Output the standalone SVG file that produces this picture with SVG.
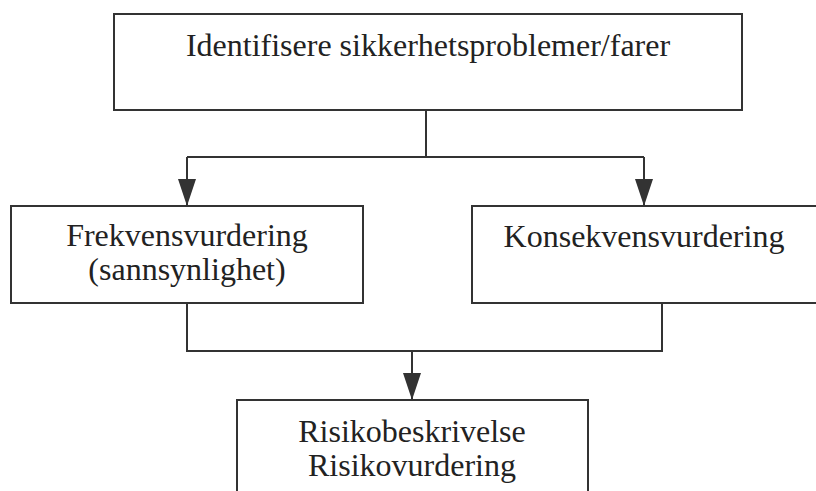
<svg xmlns="http://www.w3.org/2000/svg" width="816" height="491" viewBox="0 0 816 491">
<defs>
<style>
.box{fill:#fff;stroke:#333;stroke-width:2}
.ln{fill:none;stroke:#333;stroke-width:2}
.t{font-family:"Liberation Serif","Times New Roman",serif;font-size:32px;fill:#222;text-anchor:middle}
</style>
<marker id="ah" markerUnits="userSpaceOnUse" markerWidth="28" markerHeight="20" refX="27" refY="10" orient="auto" viewBox="0 0 28 20">
<path d="M0,1 L27,10 L0,19 Z" fill="#333"/>
</marker>
</defs>
<rect width="816" height="491" fill="#fff"/>
<g id="connectors">
<path class="ln" d="M426,110 V157"/>
<path class="ln" d="M187,157 H644"/>
<path class="ln" d="M187,157 V206" marker-end="url(#ah)"/>
<path class="ln" d="M644,157 V206" marker-end="url(#ah)"/>
<path class="ln" d="M187,303 V351 H662 V303"/>
<path class="ln" d="M412,351 V400" marker-end="url(#ah)"/>
</g>
<g id="n1">
<rect class="box" x="114" y="14" width="628" height="96"/>
<text class="t" x="428" y="56">Identifisere sikkerhetsproblemer/farer</text>
</g>
<g id="n2">
<rect class="box" x="11" y="206" width="352" height="97"/>
<text class="t" x="187" y="246">Frekvensvurdering</text>
<text class="t" x="187" y="280">(sannsynlighet)</text>
</g>
<g id="n3">
<rect class="box" x="472" y="206" width="350" height="97"/>
<text class="t" x="644" y="247">Konsekvensvurdering</text>
</g>
<g id="n4">
<rect class="box" x="237" y="400" width="351" height="100"/>
<text class="t" x="412" y="442">Risikobeskrivelse</text>
<text class="t" x="412" y="476">Risikovurdering</text>
</g>
</svg>
